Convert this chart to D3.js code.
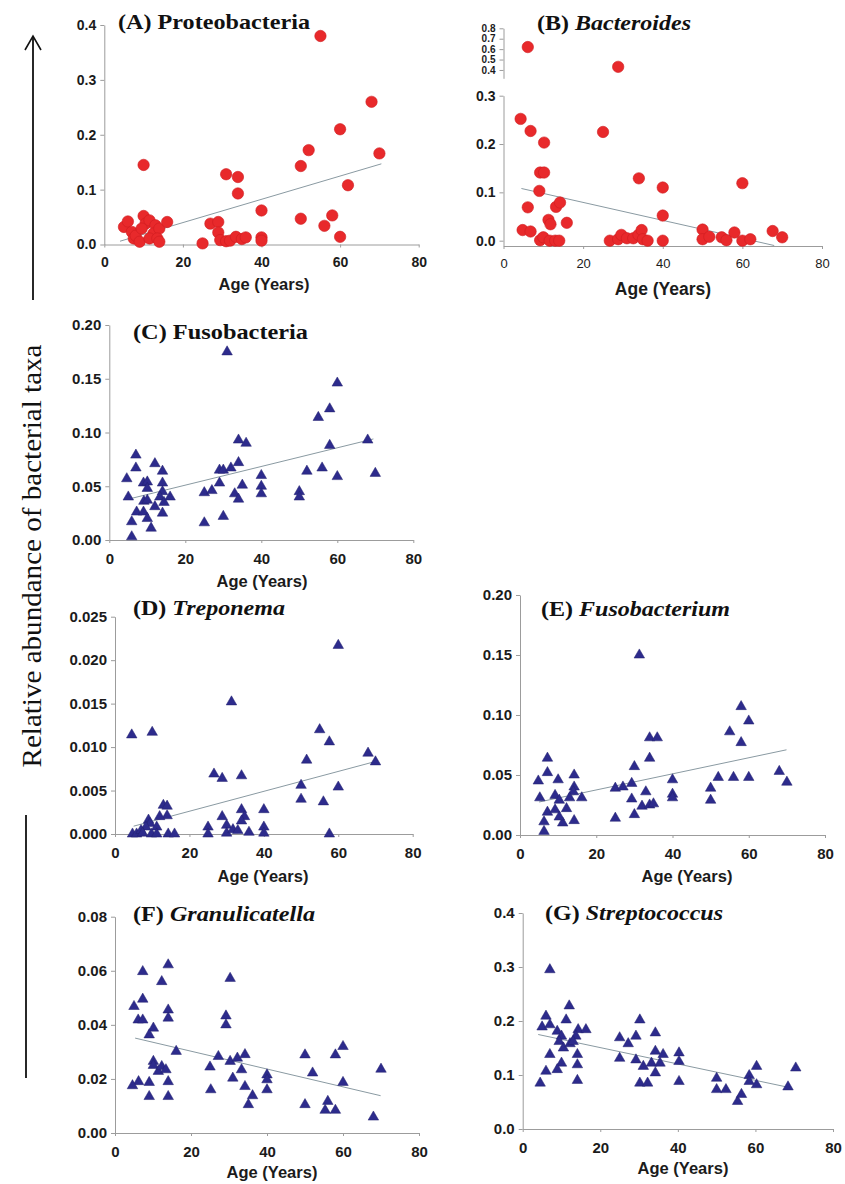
<!DOCTYPE html>
<html>
<head>
<meta charset="utf-8">
<script src="https://cdn.jsdelivr.net/npm/d3@7"></script>
<style>
  body { margin: 0; background: #fff; }
  svg { display: block; }
</style>
</head>
<body>
<div id="chart"></div>
<script>
// ---- data: [age in years, relative abundance] ----
const proteobacteria = [
  [5,0.032],[6,0.042],[7,0.023],[7.5,0.011],[8,0.016],[9,0.005],[10,0.052],[10.5,0.038],[9.5,0.029],
  [10,0.145],[11.5,0.044],[13,0.035],[12.5,0.020],[11.5,0.011],[14,0.029],[13.5,0.011],[14,0.005],
  [16,0.041],[25,0.002],[27,0.038],[29,0.041],[29,0.022],[29.5,0.008],[31,0.128],[31,0.006],[32,0.007],
  [34,0.123],[34,0.093],[33.5,0.014],[35,0.010],[36,0.013],[40,0.062],[40,0.013],[40,0.007],[50,0.143],
  [50,0.047],[52,0.172],[55,0.380],[56,0.034],[58,0.053],[60,0.210],[60,0.014],[62,0.108],[68,0.260],[70,0.166]
];
const bacteroides = [
  [4.3,0.252],[6.8,0.227],[10.2,0.203],[9.2,0.141],[10.2,0.141],[9,0.103],[6.1,0.069],[11.3,0.043],
  [11.8,0.034],[13.2,0.070],[14.2,0.079],[15.9,0.037],[4.8,0.022],[6.8,0.019],[9.2,0.001],[10,0.007],
  [11.6,0.0],[13,0.0],[14,0.0],[25,0.225],[28.8,0.43],[6.1,0.62],[34,0.129],[40,0.110],[40,0.052],
  [40,0.0],[26.7,0.0],[28.8,0.003],[29.6,0.012],[31,0.005],[32.6,0.005],[33.9,0.012],[34.7,0.022],
  [35,0.003],[36.2,0.0],[60,0.119],[50,0.023],[50,0.003],[51.7,0.008],[54.8,0.007],[56,0.001],
  [58,0.017],[60,0.0],[62,0.003],[67.6,0.020],[70,0.007]
];
const fusobacteria = [
  [31,0.175],[60,0.146],[58,0.122],[55,0.114],[34,0.093],[36,0.090],[68,0.093],[58,0.088],[7,0.079],
  [7,0.067],[12,0.071],[14,0.064],[4.6,0.057],[5,0.040],[9,0.053],[10,0.054],[10,0.048],[14,0.053],
  [14,0.045],[13.3,0.040],[12,0.031],[7.2,0.026],[5.9,0.017],[5.9,0.003],[9.1,0.036],[10,0.037],
  [9,0.026],[10,0.020],[11,0.011],[14,0.025],[14.4,0.035],[16,0.040],[25,0.044],[25,0.016],[27,0.046],
  [29,0.053],[29,0.065],[30,0.065],[32,0.067],[34,0.072],[33,0.043],[34,0.038],[35,0.051],[30,0.022],
  [40,0.060],[40,0.050],[40,0.043],[50,0.045],[50,0.040],[52,0.064],[56,0.067],[60,0.059],[70,0.062]
];
const treponema = [
  [60,0.0217],[31.3,0.0152],[4.5,0.0114],[10,0.0117],[55,0.0120],[57.6,0.0106],[68,0.0093],[70,0.0083],
  [51.5,0.0085],[26.6,0.0069],[28.8,0.0064],[34,0.0067],[50,0.0056],[50,0.0040],[60,0.0054],[56,0.0037],
  [57.6,0.0],[40,0.0028],[40,0.0008],[40,0.0001],[34,0.0028],[34.8,0.0020],[34,0.0015],[28.8,0.0020],
  [30,0.0010],[30,0.0001],[31.7,0.0005],[33,0.0004],[36,0.0002],[25,0.0008],[25,0.0],[13,0.0033],
  [14,0.0032],[14,0.0021],[12,0.0020],[9,0.0016],[9.4,0.0012],[11.2,0.0008],[8.3,0.0008],[4.7,0.0],
  [5.8,0.0],[7,0.0004],[7.4,0.0001],[9.8,0.0],[11.2,0.0],[14.3,0.0],[16,0.0]
];
const fusobacterium = [
  [31.3,0.150],[58,0.107],[60,0.095],[55,0.086],[58,0.077],[34,0.081],[36,0.081],[34,0.064],[30,0.057],
  [7.2,0.064],[7.2,0.052],[4.8,0.045],[5.2,0.031],[10,0.046],[9.2,0.033],[10.3,0.029],[14.2,0.050],
  [14.2,0.040],[14,0.036],[13,0.031],[16.2,0.031],[12.2,0.022],[11.2,0.010],[7.2,0.019],[6.3,0.011],
  [6.3,0.003],[9.2,0.021],[10.3,0.015],[14.2,0.012],[25,0.039],[27,0.040],[29.3,0.043],[29.3,0.030],
  [25,0.014],[30,0.017],[33,0.036],[32,0.024],[34,0.025],[35,0.026],[40,0.046],[40,0.034],[40,0.031],
  [50,0.039],[50,0.029],[52,0.048],[56,0.048],[60,0.048],[68,0.053],[70,0.044]
];
const granulicatella = [
  [14,0.0622],[7.3,0.0597],[12.3,0.0560],[30.3,0.0572],[5,0.0468],[7.3,0.0495],[6.1,0.0418],[7.3,0.0418],
  [14,0.0455],[14,0.0425],[29.2,0.0433],[29.2,0.0400],[10.1,0.0388],[9,0.0363],[16.1,0.0302],[10.1,0.0265],
  [10.1,0.0250],[11.4,0.0228],[12.3,0.0246],[13.4,0.0234],[9,0.0187],[6.2,0.0190],[4.6,0.0175],[14,0.0190],
  [9,0.0135],[14,0.0135],[25,0.0244],[25.2,0.0160],[27.2,0.0283],[30.3,0.0265],[32.2,0.0277],[34.2,0.0290],
  [31,0.0203],[33.3,0.0234],[34.2,0.0172],[36.2,0.0138],[35.1,0.0105],[40,0.0215],[40,0.0197],[40,0.0160],
  [50,0.0289],[50,0.0105],[52,0.0222],[56,0.0117],[55.3,0.0084],[58,0.0084],[58,0.0289],[60,0.0320],
  [60,0.0187],[68,0.0059],[70,0.0236]
];
const streptococcus = [
  [7,0.295],[12,0.228],[6,0.209],[11.2,0.202],[30.2,0.202],[5,0.189],[7,0.193],[8.9,0.181],[10,0.172],
  [9.4,0.162],[14.3,0.184],[16.3,0.184],[13.7,0.172],[10.5,0.150],[12.2,0.158],[13,0.162],[7,0.138],
  [6,0.107],[4.5,0.085],[10,0.122],[8.9,0.110],[14.1,0.138],[14.1,0.119],[14.1,0.090],[25,0.169],
  [25,0.131],[27.2,0.158],[29.2,0.172],[29.2,0.128],[30.2,0.085],[32.2,0.085],[31.1,0.116],[33.2,0.122],
  [34.2,0.178],[34.2,0.144],[34.2,0.104],[35.4,0.122],[36.2,0.138],[40.3,0.141],[40.3,0.125],[40.3,0.088],
  [50,0.094],[50,0.073],[52.4,0.073],[55.4,0.051],[56.4,0.064],[58.4,0.099],[58.4,0.088],[60.3,0.116],
  [60.3,0.082],[68.4,0.078],[70.4,0.113]
];

// regression line end points, as drawn in the figure
const trendProteobacteria = [[4,0.006],[70.5,0.147]];
const trendBacteroides = [[4.5,0.108],[68,-0.010]];
const trendFusobacteria = [[5,0.038],[69.5,0.094]];
const trendTreponema = [[5,0.0009],[69.6,0.0083]];
const trendFusobacterium = [[5,0.0275],[69.9,0.071]];
const trendGranulicatella = [[5.3,0.0351],[69.9,0.0138]];
const trendStreptococcus = [[4,0.175],[69.3,0.076]];

// tick values
const ageTicks = [0, 20, 40, 60, 80];
const ticksA = [0, 0.1, 0.2, 0.3, 0.4];
const ticksBLow = [0, 0.1, 0.2, 0.3];
const ticksBHigh = [0.4, 0.5, 0.6, 0.7, 0.8];
const ticksC = [0, 0.05, 0.10, 0.15, 0.20];
const ticksD = [0, 0.005, 0.010, 0.015, 0.020, 0.025];
const ticksE = [0, 0.05, 0.10, 0.15, 0.20];
const ticksF = [0, 0.02, 0.04, 0.06, 0.08];
const ticksG = [0, 0.1, 0.2, 0.3, 0.4];

const width = 845, height = 1184;
const red = "#e8292b", blue = "#2d2b8c";
const axisGrey = "#9c9c9c", trendGrey = "#8a9aa2";
const sans = "'Liberation Sans', Arial, sans-serif";
const serif = "'Liberation Serif', 'Times New Roman', serif";

// panel layout (pixel frames of each small plot)
const panels = [
  { letter: "(A) ", name: "Proteobacteria", italic: false, data: proteobacteria, trend: trendProteobacteria, shape: "circle",
    x0: 104.3, x1: 418.7, yDomain: [0, 0.4], yRange: [244.5, 25], yTicks: ticksA, fmt: ".1f", tickFont: 14,
    titleX: 118, titleY: 29, titleW: 192, ageX: 264, ageY: 290, ageFont: 16.5 },
  { letter: "(B) ", name: "Bacteroides", italic: true, data: bacteroides, trend: trendBacteroides, shape: "circle",
    x0: 503.5, x1: 822, yDomain: [-0.011, 0.3], yRange: [246, 95.7], yTicks: ticksBLow, fmt: ".1f", tickFont: 14,
    broken: { domain: [0.32, 0.8], range: [78.3, 28.3], ticks: ticksBHigh, cut: 0.35 },
    xTickFont: 13, xTickWeight: "normal",
    titleX: 537, titleY: 30, titleW: 154, ageX: 663, ageY: 295, ageFont: 17.5 },
  { letter: "(C) ", name: "Fusobacteria", italic: false, data: fusobacteria, trend: trendFusobacteria, shape: "triangle",
    x0: 109.3, x1: 413.3, yDomain: [0, 0.2], yRange: [540, 325], yTicks: ticksC, fmt: ".2f", tickFont: 15,
    titleX: 133, titleY: 339, titleW: 175, ageX: 262, ageY: 587, ageFont: 16.5 },
  { letter: "(D) ", name: "Treponema", italic: true, data: treponema, trend: trendTreponema, shape: "triangle",
    x0: 115, x1: 412.7, yDomain: [0, 0.025], yRange: [834, 616.7], yTicks: ticksD, fmt: ".3f", tickFont: 15,
    titleX: 133, titleY: 615, titleW: 152, ageX: 263, ageY: 882, ageFont: 16.5 },
  { letter: "(E) ", name: "Fusobacterium", italic: true, data: fusobacterium, trend: trendFusobacterium, shape: "triangle",
    x0: 520, x1: 825, yDomain: [0, 0.2], yRange: [835, 595], yTicks: ticksE, fmt: ".2f", tickFont: 15,
    titleX: 541, titleY: 616, titleW: 189, ageX: 687, ageY: 882, ageFont: 16.5 },
  { letter: "(F) ", name: "Granulicatella", italic: true, data: granulicatella, trend: trendGranulicatella, shape: "triangle",
    x0: 115, x1: 419, yDomain: [0, 0.08], yRange: [1133, 916.7], yTicks: ticksF, fmt: ".2f", tickFont: 15,
    titleX: 133, titleY: 921, titleW: 182, ageX: 272, ageY: 1178, ageFont: 16.5 },
  { letter: "(G) ", name: "Streptococcus", italic: true, data: streptococcus, trend: trendStreptococcus, shape: "triangle",
    x0: 522.7, x1: 833, yDomain: [0, 0.4], yRange: [1129, 913], yTicks: ticksG, fmt: ".1f", tickFont: 15,
    titleX: 545, titleY: 920, titleW: 178, ageX: 683, ageY: 1174, ageFont: 16.5 }
];

const svg = d3.select("#chart").append("svg")
  .attr("width", width)
  .attr("height", height)
  .style("background", "#fff");

function styleAxis(sel, fontSize, weight) {
  sel.select(".domain").attr("stroke", axisGrey).attr("stroke-width", 1);
  sel.selectAll(".tick line").attr("stroke", axisGrey);
  sel.selectAll(".tick text")
    .attr("fill", "#1b1b1b")
    .style("font-family", sans)
    .style("font-weight", weight || "bold")
    .style("font-size", fontSize + "px");
}

panels.forEach(p => {
  const g = svg.append("g");
  const x = d3.scaleLinear().domain([0, 80]).range([p.x0, p.x1]);
  const y = d3.scaleLinear().domain(p.yDomain).range(p.yRange);
  const yHigh = p.broken ? d3.scaleLinear().domain(p.broken.domain).range(p.broken.range) : null;
  const yOf = v => (yHigh && v > p.broken.cut) ? yHigh(v) : y(v);

  // y axis (and the upper piece of a broken axis)
  g.append("g")
    .attr("transform", `translate(${p.x0},0)`)
    .call(d3.axisLeft(y).tickValues(p.yTicks).tickFormat(d3.format(p.fmt))
      .tickSize(4).tickSizeOuter(0).tickPadding(4))
    .call(s => styleAxis(s, p.tickFont));

  if (yHigh) {
    // labels are packed tightly, as in the figure
    g.append("g")
      .attr("transform", `translate(${p.x0},0)`)
      .call(d3.axisLeft(yHigh).tickValues(p.broken.ticks).tickFormat(d3.format(".1f"))
        .tickSize(4).tickSizeOuter(0).tickPadding(4))
      .call(s => styleAxis(s, 10));
  }

  // x axis
  g.append("g")
    .attr("transform", `translate(0,${p.yRange[0]})`)
    .call(d3.axisBottom(x).tickValues(ageTicks).tickFormat(d3.format("d"))
      .tickSize(3).tickSizeOuter(0).tickPadding(10))
    .call(s => styleAxis(s, p.xTickFont || p.tickFont, p.xTickWeight));

  // regression line
  g.append("path")
    .datum(p.trend)
    .attr("fill", "none")
    .attr("stroke", trendGrey)
    .attr("stroke-width", 1)
    .attr("d", d3.line().x(d => x(d[0])).y(d => y(d[1])));

  // points
  if (p.shape === "circle") {
    g.append("g").selectAll("circle")
      .data(p.data)
      .join("circle")
      .attr("cx", d => x(d[0]))
      .attr("cy", d => yOf(d[1]))
      .attr("r", 5.7)
      .attr("fill", red)
      .attr("stroke", "#cf1c20")
      .attr("stroke-width", 0.6);
  } else {
    const tri = d3.symbol().type(d3.symbolTriangle).size(48);
    g.append("g").selectAll("path")
      .data(p.data)
      .join("path")
      .attr("transform", d => `translate(${x(d[0])},${yOf(d[1])})`)
      .attr("d", tri)
      .attr("fill", blue)
      .attr("stroke", "#23216f")
      .attr("stroke-width", 0.5);
  }

  // panel title
  const title = g.append("text")
    .attr("x", p.titleX)
    .attr("y", p.titleY)
    .attr("textLength", p.titleW)
    .attr("lengthAdjust", "spacingAndGlyphs")
    .style("font-family", serif)
    .style("font-weight", "bold")
    .style("font-size", "22px")
    .attr("fill", "#111");
  title.append("tspan").text(p.letter);
  title.append("tspan").style("font-style", p.italic ? "italic" : "normal").text(p.name);

  // x axis title
  g.append("text")
    .attr("x", p.ageX)
    .attr("y", p.ageY)
    .attr("text-anchor", "middle")
    .style("font-family", sans)
    .style("font-weight", "bold")
    .style("font-size", p.ageFont + "px")
    .attr("fill", "#1b1b1b")
    .text("Age (Years)");
});

// shared y label with the arrow
const side = svg.append("g");
side.append("line")
  .attr("x1", 33).attr("x2", 33).attr("y1", 300).attr("y2", 37)
  .attr("stroke", "#111").attr("stroke-width", 1.8);
side.append("path")
  .attr("d", "M25,50 L33,36 L41,50")
  .attr("fill", "none").attr("stroke", "#111").attr("stroke-width", 1.6);
side.append("line")
  .attr("x1", 26).attr("x2", 26).attr("y1", 815).attr("y2", 1078)
  .attr("stroke", "#111").attr("stroke-width", 1.8);
side.append("text")
  .attr("transform", "translate(41,556) rotate(-90)")
  .attr("text-anchor", "middle")
  .attr("textLength", 423)
  .attr("lengthAdjust", "spacingAndGlyphs")
  .style("font-family", serif)
  .style("font-size", "27px")
  .attr("fill", "#111")
  .text("Relative abundance of bacterial taxa");
</script>
</body>
</html>
